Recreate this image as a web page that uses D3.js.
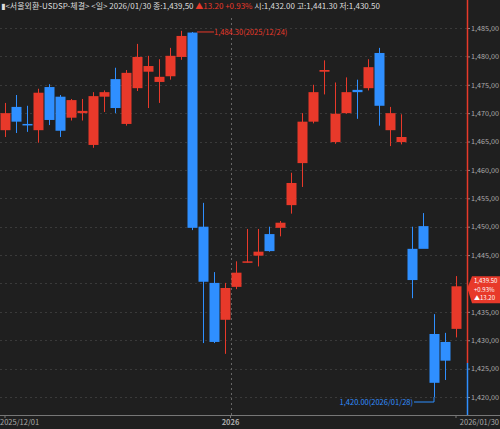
<!DOCTYPE html><html><head><meta charset="utf-8"><script src="https://cdn.jsdelivr.net/npm/d3@7"></script>
<style>body{margin:0;background:#1f1f1f}svg{display:block}text{font-family:"Noto Sans CJK KR","DejaVu Sans",sans-serif}</style></head><body>
<script>
const opens = [1467.0,1471.1,1468.1,1467.0,1474.6,1472.9,1469.2,1470.0,1464.4,1472.9,1476.0,1468.1,1474.4,1477.3,1475.5,1476.5,1479.9,1484.2,1450.0,1440.1,1433.6,1439.4,1443.7,1444.9,1448.7,1449.8,1453.8,1461.2,1468.5,1477.3,1464.9,1470.0,1474.1,1474.4,1480.6,1467.0,1464.9,1446.1,1450.1,1431.1,1429.7,1432.0];
const closes = [1470.0,1468.5,1468.0,1473.6,1468.8,1466.9,1472.3,1470.4,1473.0,1473.7,1470.9,1477.1,1479.9,1478.3,1476.4,1480.1,1483.6,1449.8,1440.3,1429.7,1439.2,1441.9,1443.9,1445.6,1445.7,1450.7,1457.7,1468.5,1473.7,1477.6,1469.9,1473.7,1473.7,1478.1,1471.3,1470.0,1465.8,1440.6,1446.1,1422.5,1426.4,1439.5];
const highs = [1471.8,1473.2,1471.3,1474.3,1475.1,1473.2,1472.5,1472.5,1473.7,1474.0,1478.0,1477.6,1482.2,1480.1,1479.5,1481.5,1484.5,1484.3,1454.2,1442.0,1440.1,1443.9,1449.6,1449.6,1450.0,1451.0,1459.5,1470.0,1475.0,1479.3,1475.4,1476.3,1475.9,1479.5,1481.5,1471.1,1469.8,1450.0,1452.4,1434.6,1431.3,1441.3];
const lows = [1465.8,1466.5,1466.7,1464.8,1467.9,1465.8,1468.7,1468.7,1463.9,1470.2,1470.0,1467.8,1473.9,1470.9,1471.8,1475.9,1479.4,1449.4,1429.5,1429.5,1427.6,1439.0,1443.7,1443.0,1445.6,1448.3,1452.3,1457.0,1468.2,1473.3,1464.6,1469.9,1469.0,1474.0,1467.8,1464.2,1464.5,1437.4,1446.3,1420.0,1423.0,1430.5];
const yTicks = [1420,1425,1430,1435,1440,1445,1450,1455,1460,1465,1470,1475,1480,1485];
const dateLabels = [{i:0,t:"2025/12/01"},{i:20.5,t:"2026"},{i:41,t:"2026/01/30"}];
const header = "<서울외환-USDSP-체결> <일> 2026/01/30 종:1,439,50";
const W=500,H=429, RED="#e8392a", BLUE="#2f8fff";
const svg=d3.select("body").append("svg").attr("width",W).attr("height",H);
svg.append("rect").attr("width",W).attr("height",H).attr("fill","#1f1f1f");
const y=d3.scaleLinear().domain([1420,1485]).range([397,28]);
const x=d3.scaleLinear().domain([0,41]).range([5,456]);
const plotR=467, axisY=415;
svg.append("g").selectAll("line").data(yTicks).join("line").attr("x1",0).attr("x2",plotR).attr("y1",d=>Math.round(y(d))+0.5).attr("y2",d=>Math.round(y(d))+0.5).attr("stroke","#3a3a3a").attr("stroke-dasharray","2,3");
svg.append("line").attr("x1",Math.round(x(20.5))+0.5).attr("x2",Math.round(x(20.5))+0.5).attr("y1",18).attr("y2",axisY).attr("stroke","#666").attr("stroke-dasharray","2,3");
const ya=svg.append("g").attr("transform",`translate(${plotR},0)`).call(d3.axisRight(y).tickValues(yTicks.filter(v=>v!==1440)).tickSize(3).tickFormat(d=>d3.format(",.2f")(d).replace(".",",")));
ya.select(".domain").remove();
ya.selectAll("line").attr("stroke","#888");
ya.selectAll("text").attr("fill","#aaa").attr("font-size",7).attr("x",4).attr("textLength",28).attr("lengthAdjust","spacingAndGlyphs");
svg.append("line").attr("x1",plotR+0.5).attr("x2",plotR+0.5).attr("y1",0).attr("y2",y(1426)).attr("stroke",RED).attr("stroke-width",1.5);
svg.append("line").attr("x1",plotR+0.5).attr("x2",plotR+0.5).attr("y1",y(1426)).attr("y2",axisY).attr("stroke",BLUE).attr("stroke-width",1.5);
svg.append("line").attr("x1",0).attr("x2",W).attr("y1",axisY+0.5).attr("y2",axisY+0.5).attr("stroke","#777");
svg.append("g").selectAll("text").data(dateLabels).join("text").attr("x",(d,k)=>k==0?0:k==2?W-1:x(d.i)).attr("y",425).attr("text-anchor",(d,k)=>k==0?"start":k==2?"end":"middle").attr("fill","#aaa").attr("font-size",7.5).attr("font-weight",(d,k)=>k==1?"bold":"normal").text(d=>d.t);
svg.append("g").selectAll("line").data([0,20.5,41]).join("line").attr("x1",d=>x(d)).attr("x2",d=>x(d)).attr("y1",axisY).attr("y2",axisY+3).attr("stroke","#777");
const idx=d3.range(opens.length);
const col=i=>closes[i]>=opens[i]?RED:BLUE;
const g=svg.append("g");
g.selectAll(".w").data(idx).join("line").attr("x1",i=>Math.round(x(i))+0.5).attr("x2",i=>Math.round(x(i))+0.5).attr("y1",i=>y(highs[i])).attr("y2",i=>y(lows[i])).attr("stroke",col);
g.selectAll(".b").data(idx).join("rect").attr("x",i=>Math.round(x(i))-4.5).attr("width",10).attr("y",i=>y(Math.max(opens[i],closes[i]))).attr("height",i=>Math.max(1.5,Math.abs(y(opens[i])-y(closes[i])))).attr("fill",col);
const hi=17, lo=39;
svg.append("line").attr("x1",x(hi)+5).attr("x2",x(hi)+22).attr("y1",y(1484.3)).attr("y2",y(1484.3)).attr("stroke",RED);
svg.append("text").attr("x",x(hi)+22).attr("y",y(1484.3)+3).attr("fill",RED).attr("font-size",7.5).text("1,484.30(2025/12/24)");
svg.append("path").attr("d",`M${x(lo)-20},${y(1420)+5}H${x(lo)}V${y(1420)}`).attr("fill","none").attr("stroke",BLUE);
svg.append("text").attr("x",x(lo)-21).attr("y",y(1420)+8).attr("text-anchor","end").attr("fill",BLUE).attr("font-size",7.5).text("1,420.00(2026/01/28)");
const pb=svg.append("g").attr("transform",`translate(${plotR+1},${y(1439.5)-10})`);
pb.append("path").attr("d","M0,10 L4,0 H32 V27 H4 L0,14Z").attr("fill",RED);
["1,439.50","+0.93%","▲13.20"].forEach((t,k)=>pb.append("text").attr("x",6).attr("y",7+k*8.5).attr("fill","#fff").attr("font-size",6).text(t));
const ht=svg.append("text").attr("x",1).attr("y",9).attr("font-size",8);
ht.append("tspan").attr("fill","#ddd").text("▮"+header);
ht.append("tspan").attr("fill",RED).text(" ▲13.20  +0.93%");
ht.append("tspan").attr("fill","#ddd").text(" 시:1,432.00 고:1,441.30 저:1,430.50");
</script></body></html>
